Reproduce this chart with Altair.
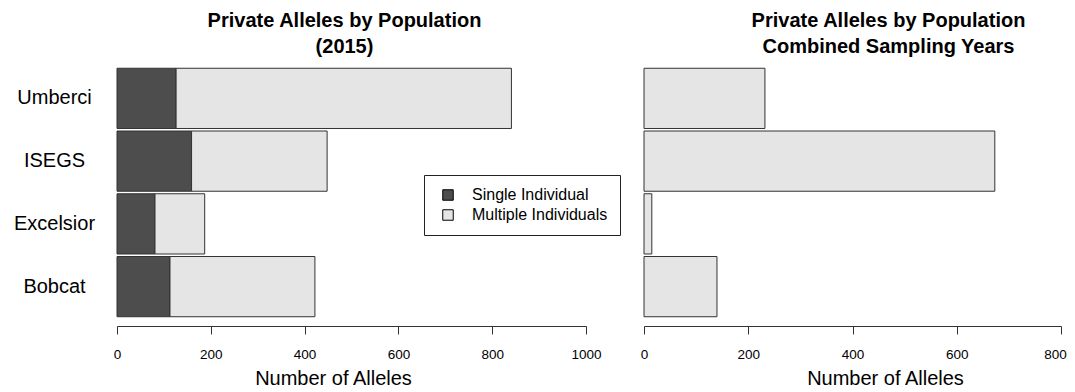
import altair as alt
import pandas as pd

populations = ["Umberci", "ISEGS", "Excelsior", "Bobcat"]
single_2015 = [126, 159, 81, 113]
multiple_2015 = [715, 289, 106, 309]
combined_total = [232, 673, 15, 140]
categories = ["Single Individual", "Multiple Individuals"]
cat_colors = ["#4d4d4d", "#e5e5e5"]
left_ticks = [0, 200, 400, 600, 800, 1000]
right_ticks = [0, 200, 400, 600, 800]

rows = []
for p, s, m in zip(populations, single_2015, multiple_2015):
    rows.append({"pop": p, "cat": categories[0], "n": s, "ord": 0})
    rows.append({"pop": p, "cat": categories[1], "n": m, "ord": 1})
left_df = pd.DataFrame(rows)
right_df = pd.DataFrame({"pop": populations, "n": combined_total})

FONT = "Liberation Sans"
y_scale = alt.Scale(domain=populations, paddingInner=0.04, paddingOuter=0.02)


def x_axis(ticks, title_x, last_shift=0):
    extra = {}
    if last_shift:
        extra["labelOffset"] = {"condition": {"test": f"datum.value === {ticks[-1]}",
                                              "value": last_shift}, "value": 0}
    return alt.Axis(
        values=ticks, title="Number of Alleles", grid=False,
        domainColor="#333333", tickColor="#333333", tickSize=8,
        labelFontSize=13.5, labelColor="black", labelFont=FONT,
        titleFont=FONT, titleFontSize=20, titleFontWeight="normal",
        titleColor="black", labelPadding=13, titlePadding=8, offset=8,
        labelFlush=False, format="d", titleX=title_x, titleAlign="center",
        **extra,
    )


def panel_title(lines, dx):
    return alt.Title(
        text=lines, fontSize=20, font=FONT, fontWeight="bold", color="black",
        lineHeight=26, anchor="middle", dx=dx, offset=10,
    )


left = alt.Chart(left_df, title=panel_title(["Private Alleles by Population", "(2015)"], -7)).mark_bar(
    stroke="#333333", strokeWidth=1
).encode(
    x=alt.X("n:Q", stack="zero", scale=alt.Scale(domain=[0, 1000], nice=False),
            axis=x_axis(left_ticks, 216)),
    y=alt.Y("pop:N", sort=populations, scale=y_scale,
            axis=alt.Axis(title=None, ticks=False, domain=False, labelAlign="center",
                          labelPadding=63, labelFontSize=20, labelFont=FONT,
                          labelColor="black")),
    color=alt.Color("cat:N", scale=alt.Scale(domain=categories, range=cat_colors),
                    legend=alt.Legend(title=None, orient="none", legendX=307, legendY=108,
                                      direction="vertical", strokeColor="#222222",
                                      fillColor="white", padding=12, labelFontSize=16,
                                      labelFont=FONT, labelColor="black",
                                      symbolType="square", symbolSize=110,
                                      symbolStrokeColor="black", symbolStrokeWidth=1,
                                      symbolOffset=4, labelOffset=16, rowPadding=4,
                                      cornerRadius=0)),
    order=alt.Order("ord:Q"),
).properties(width=469, height=251)

right = alt.Chart(right_df, title=panel_title(["Private Alleles by Population", "Combined Sampling Years"], 36)).mark_bar(
    fill="#e5e5e5", stroke="#333333", strokeWidth=1
).encode(
    x=alt.X("n:Q", scale=alt.Scale(domain=[0, 800], nice=False),
            axis=x_axis(right_ticks, 241, last_shift=-6)),
    y=alt.Y("pop:N", sort=populations, scale=y_scale,
            axis=alt.Axis(title=None, ticks=False, domain=False, labels=False)),
).properties(width=417, height=251)

chart = alt.hconcat(left, right, spacing=58, bounds="flush").configure_view(
    stroke=None
).properties(padding={"left": 5, "top": 3, "right": 0, "bottom": 0})

chart.save("out.html", embed_options={"renderer": "svg", "actions": False})
